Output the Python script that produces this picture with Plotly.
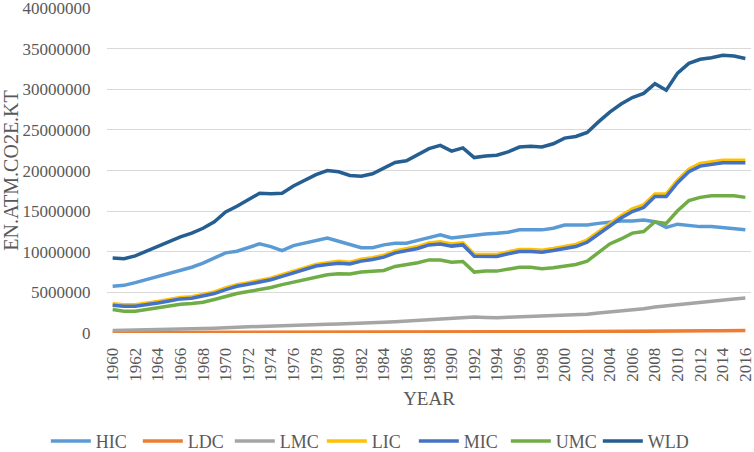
import plotly.graph_objects as go

years = list(range(1960, 2017))

# values in million kt
HIC = [5.75, 5.87, 6.20, 6.56, 6.97, 7.30, 7.70, 8.10, 8.60, 9.26,
       9.87, 10.07, 10.56, 10.97, 10.64, 10.15, 10.76, 11.05, 11.40, 11.70,
       11.30, 10.85, 10.50, 10.50, 10.85, 11.05, 11.05, 11.40, 11.80, 12.10,
       11.70, 11.87, 11.99, 12.20, 12.27, 12.40, 12.70, 12.70, 12.70, 12.90,
       13.30, 13.30, 13.30, 13.50, 13.70, 13.80, 13.80, 13.90, 13.70, 13.00,
       13.40, 13.20, 13.10, 13.10, 13.00, 12.90, 12.70]
LDC = [0.06, 0.06, 0.06, 0.07, 0.07, 0.07, 0.08, 0.08, 0.08, 0.09,
       0.09, 0.10, 0.10, 0.10, 0.10, 0.10, 0.11, 0.11, 0.11, 0.12,
       0.12, 0.12, 0.12, 0.12, 0.12, 0.12, 0.13, 0.13, 0.13, 0.13,
       0.13, 0.13, 0.13, 0.13, 0.13, 0.14, 0.14, 0.14, 0.15, 0.15,
       0.16, 0.16, 0.17, 0.17, 0.18, 0.19, 0.20, 0.21, 0.22, 0.23,
       0.24, 0.25, 0.26, 0.27, 0.28, 0.29, 0.30]
LMC = [0.30, 0.32, 0.35, 0.38, 0.42, 0.45, 0.48, 0.50, 0.55, 0.60,
       0.68, 0.72, 0.76, 0.80, 0.83, 0.87, 0.92, 0.97, 1.02, 1.08,
       1.12, 1.15, 1.20, 1.25, 1.32, 1.40, 1.48, 1.56, 1.65, 1.72,
       1.78, 1.88, 1.98, 1.92, 1.88, 1.95, 2.00, 2.04, 2.06, 2.12,
       2.20, 2.25, 2.32, 2.45, 2.58, 2.70, 2.85, 3.00, 3.20, 3.35,
       3.52, 3.70, 3.85, 3.90, 4.10, 4.20, 4.32]
LIC = [3.60, 3.48, 3.48, 3.64, 3.88, 4.13, 4.38, 4.46, 4.72, 5.05,
       5.55, 5.95, 6.20, 6.48, 6.76, 7.17, 7.58, 8.00, 8.45, 8.65,
       8.82, 8.72, 9.07, 9.28, 9.57, 10.10, 10.38, 10.64, 11.10, 11.22,
       10.95, 11.10, 9.70, 9.70, 9.66, 9.99, 10.27, 10.27, 10.19, 10.40,
       10.62, 10.90, 11.45, 12.48, 13.50, 14.45, 15.28, 15.78, 17.12, 17.12,
       18.82, 20.17, 20.88, 21.08, 21.28, 21.28, 21.28]
MIC = [3.42, 3.30, 3.30, 3.46, 3.70, 3.95, 4.20, 4.28, 4.53, 4.86,
       5.35, 5.75, 6.00, 6.28, 6.56, 6.97, 7.38, 7.79, 8.24, 8.44,
       8.60, 8.50, 8.85, 9.05, 9.34, 9.87, 10.15, 10.40, 10.85, 10.97,
       10.70, 10.85, 9.46, 9.46, 9.42, 9.75, 10.03, 10.03, 9.95, 10.15,
       10.36, 10.64, 11.17, 12.20, 13.20, 14.15, 14.96, 15.45, 16.80, 16.80,
       18.50, 19.85, 20.55, 20.75, 20.95, 20.95, 20.95]
UMC = [2.90, 2.69, 2.69, 2.90, 3.14, 3.34, 3.55, 3.63, 3.79, 4.12,
       4.53, 4.86, 5.10, 5.35, 5.60, 5.96, 6.28, 6.60, 6.97, 7.18,
       7.30, 7.26, 7.50, 7.60, 7.70, 8.20, 8.40, 8.65, 9.00, 9.00,
       8.72, 8.80, 7.50, 7.62, 7.62, 7.90, 8.10, 8.10, 7.90, 8.03,
       8.24, 8.44, 8.85, 9.95, 10.97, 11.58, 12.30, 12.50, 13.70, 13.50,
       15.05, 16.30, 16.70, 16.90, 16.95, 16.90, 16.70]
WLD = [9.25, 9.15, 9.50, 10.10, 10.70, 11.25, 11.85, 12.30, 12.90, 13.70,
       14.90, 15.60, 16.40, 17.20, 17.15, 17.20, 18.10, 18.80, 19.50, 20.00,
       19.85, 19.40, 19.30, 19.60, 20.30, 21.00, 21.20, 21.90, 22.70, 23.10,
       22.40, 22.80, 21.60, 21.80, 21.90, 22.30, 22.90, 23.00, 22.90, 23.30,
       24.00, 24.20, 24.70, 26.00, 27.20, 28.20, 29.00, 29.50, 30.70, 29.90,
       32.00, 33.20, 33.70, 33.90, 34.20, 34.10, 33.80]

series = [("HIC", HIC, "#5B9BD5"), ("LDC", LDC, "#ED7D31"), ("LMC", LMC, "#A5A5A5"),
          ("LIC", LIC, "#FFC000"), ("MIC", MIC, "#4472C4"), ("UMC", UMC, "#70AD47"),
          ("WLD", WLD, "#255E91")]

FONT = "Liberation Serif"
TXT = "#595959"
CLEAR = "rgba(0,0,0,0)"

fig = go.Figure()
for name, vals, col in series:
    fig.add_trace(go.Scatter(x=years, y=[v * 1e6 for v in vals], name=name, mode="lines",
                             line=dict(color=col, width=3.5)))

fig.update_layout(
    width=754, height=452,
    margin=dict(l=107, r=3, t=8, b=119, autoexpand=False),
    paper_bgcolor="white", plot_bgcolor="white",
    font=dict(family=FONT, size=17, color=TXT),
    showlegend=True,
    legend=dict(orientation="h", xref="paper", x=-0.095, xanchor="left",
                yref="paper", y=-0.333, yanchor="middle",
                font=dict(family=FONT, size=18, color=TXT),
                entrywidth=37, entrywidthmode="pixels", itemwidth=40,
                bgcolor=CLEAR),
)
fig.update_xaxes(
    range=[1959.5, 2016.5], tickmode="linear", tick0=1960, dtick=2,
    tickangle=-90, showgrid=False, zeroline=False, showline=False,
    ticks="outside", ticklen=7, tickcolor=CLEAR, ticklabeloverflow="allow",
    tickfont=dict(family=FONT, size=17, color=TXT),
    title=dict(text="YEAR", font=dict(family=FONT, size=19, color=TXT), standoff=10),
    automargin=False,
)
fig.update_yaxes(
    range=[0, 40.02e6], tickmode="linear", tick0=0, dtick=5e6, tickformat="d",
    showgrid=True, gridcolor="#D9D9D9", gridwidth=1.3, zeroline=False, showline=False,
    ticks="outside", ticklen=12, tickcolor=CLEAR, ticklabeloverflow="allow",
    tickfont=dict(family=FONT, size=17, color=TXT),
    title=dict(text="EN.ATM.CO2E.KT", font=dict(family=FONT, size=20, color=TXT), standoff=0),
    automargin=False,
)

fig.write_html("out.html", config={"displayModeBar": False},
               post_script="document.body.style.margin='0px';")
